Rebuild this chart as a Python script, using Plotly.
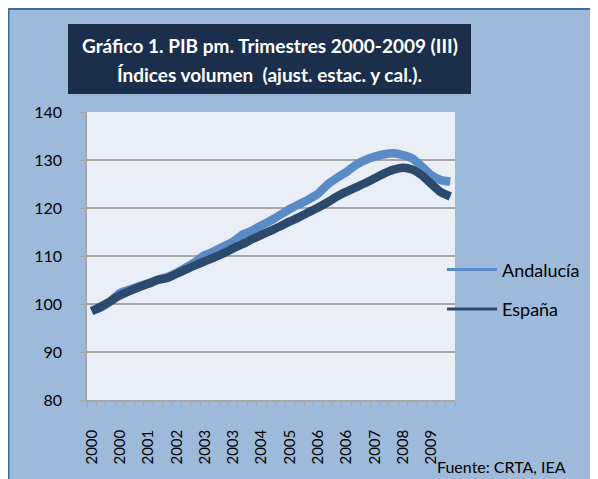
import plotly.graph_objects as go

# Quarters 2000 Q1 .. 2009 Q3 (39 quarters)
quarter_years = [str(y) for y in range(2000, 2010) for q in range(4)][:39]
tick_every = 3

andalucia = [98.6, 99.3, 100.6, 102.3, 103.0, 103.7, 104.3, 105.1, 105.6, 106.5,
             107.6, 108.8, 110.2, 111.0, 112.0, 113.0, 114.5, 115.3, 116.4, 117.4,
             118.6, 119.8, 120.8, 121.8, 123.0, 124.9, 126.3, 127.5, 129.0, 130.0,
             130.7, 131.2, 131.4, 131.0, 130.3, 128.6, 126.8, 125.8, 125.5]
espana = [98.5, 99.5, 100.6, 101.8, 102.7, 103.5, 104.2, 105.0, 105.4, 106.3,
          107.2, 108.1, 108.9, 109.7, 110.6, 111.6, 112.5, 113.5, 114.4, 115.3,
          116.2, 117.2, 118.1, 119.1, 120.1, 121.2, 122.4, 123.4, 124.3, 125.2,
          126.2, 127.2, 128.0, 128.4, 128.0, 126.8, 125.0, 123.3, 122.4]

series_names = ["Andalucía", "España"]
series_colors = ["#5B8BC6", "#2C4A6E"]
title_lines = ["Gráfico 1. PIB pm. Trimestres 2000-2009 (III)",
               "Índices volumen  (ajust. estac. y cal.)."]
source_text = "Fuente: CRTA, IEA"

x = list(range(len(quarter_years)))
tickvals = x[::tick_every]
ticktext = quarter_years[::tick_every]

# page body has an 8px margin, so the figure is drawn 8px smaller
OFF = 8
W, H = 598 - OFF, 479 - OFF
L, T = 87 - OFF, 112 - OFF
R = W - (455 - OFF)
B = H - (400 - OFF)
pw, ph = W - L - R, H - T - B


def fx(px):
    return (px - OFF - L) / pw


def fy(py):
    return (H - B - (py - OFF)) / ph


FONT = "Lato"

fig = go.Figure()
for name, vals, col in [(series_names[0], andalucia, series_colors[0]),
                        (series_names[1], espana, series_colors[1])]:
    fig.add_trace(go.Scatter(x=x, y=vals, mode="lines", name=name,
                             line=dict(color=col, width=8.5, shape="spline", smoothing=0.5),
                             showlegend=False, hoverinfo="x+y"))

shapes = [
    # outer panel
    dict(type="rect", xref="paper", yref="paper", x0=fx(8.5), x1=fx(602), y0=fy(9), y1=fy(484),
         fillcolor="#9DBADA", line=dict(color="#3D6C9C", width=2), layer="below"),
    # plot area background
    dict(type="rect", xref="paper", yref="paper", x0=0, x1=1, y0=0, y1=1,
         fillcolor="#EAEEF6", line=dict(width=0), layer="below"),
    # title box
    dict(type="rect", xref="paper", yref="paper", x0=fx(68), x1=fx(471), y0=fy(94), y1=fy(24),
         fillcolor="#1B2F4C", line=dict(width=0), layer="below"),
]
annotations = [
    dict(text="<b>" + title_lines[0] + "</b>", xref="paper", yref="paper", x=fx(269.5), y=fy(45),
         xanchor="center", yanchor="middle", showarrow=False,
         font=dict(family=FONT, size=19, color="white")),
    dict(text="<b>" + title_lines[1] + "</b>", xref="paper", yref="paper", x=fx(269.5), y=fy(74),
         xanchor="center", yanchor="middle", showarrow=False,
         font=dict(family=FONT, size=19, color="white")),
    dict(text=source_text, xref="paper", yref="paper", x=fx(436), y=fy(477),
         xanchor="left", yanchor="bottom", showarrow=False, borderpad=0,
         font=dict(family=FONT, size=16, color="black")),
]
# legend drawn manually
for name, col, py in [(series_names[0], series_colors[0], 269.5), (series_names[1], series_colors[1], 309)]:
    shapes.append(dict(type="line", xref="paper", yref="paper", x0=fx(447), x1=fx(497), y0=fy(py), y1=fy(py),
                       line=dict(color=col, width=3)))
    annotations.append(dict(text=name, xref="paper", yref="paper", x=fx(500), y=fy(py),
                            xanchor="left", yanchor="middle", showarrow=False,
                            font=dict(family=FONT, size=18, color="black")))

fig.update_layout(
    width=W, height=H,
    margin=dict(l=L, r=R, t=T, b=B, pad=0),
    paper_bgcolor="white",
    plot_bgcolor="rgba(0,0,0,0)",
    shapes=shapes,
    annotations=annotations,
    font=dict(family=FONT, color="black"),
    xaxis=dict(range=[-0.5, len(x) - 0.5], tickmode="array", tickvals=tickvals, ticktext=ticktext,
               tickangle=-90, ticks="", showgrid=False, showline=True, linecolor="#A6A6A6",
               linewidth=1.5, tickfont=dict(size=15, family=FONT), ticklabelstandoff=22,
               automargin=False,
               minor=dict(tickmode="linear", tick0=-0.5, dtick=1, ticks="outside", ticklen=5,
                          tickcolor="#A6A6A6", showgrid=False),
               zeroline=False),
    yaxis=dict(range=[80, 140], dtick=10, showgrid=True, gridcolor="#A6A6A6", gridwidth=1.5,
               showline=True, linecolor="#A6A6A6", linewidth=1.5, ticks="outside", ticklen=6,
               tickcolor="#A6A6A6", tickfont=dict(size=16, family=FONT), ticklabelstandoff=14,
               automargin=False, zeroline=False),
)

fig.write_html("out.html")
